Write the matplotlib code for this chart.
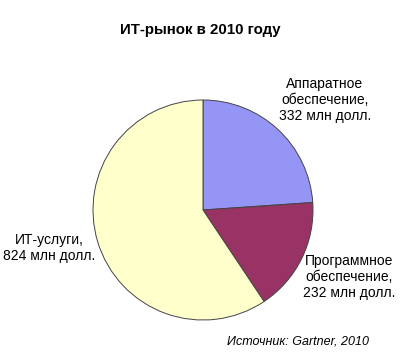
import matplotlib.pyplot as plt

# data
labels = ['Аппаратное\nобеспечение,\n332 млн долл.',
          'Программное\nобеспечение,\n232 млн долл.',
          'ИТ-услуги,\n824 млн долл.']
values = [332, 232, 824]
colors = ['#9595f5', '#993366', '#ffffcc']

plt.rcParams['font.family'] = ['Liberation Sans', 'DejaVu Sans']

fig = plt.figure(figsize=(4, 3.59), dpi=100)
ax = fig.add_axes([0, 0, 1, 1])

# pie in pixel-like coordinates (y up)
ax.pie(values, colors=colors, startangle=90, counterclock=False,
       center=(203, 149), radius=110,
       wedgeprops=dict(edgecolor='#444444', linewidth=0.7))
ax.set_xlim(0, 400)
ax.set_ylim(0, 359)
ax.set_aspect('equal')
ax.axis('off')

# slice labels
label_pos = [(325, 259), (349, 82), (49, 111)]
for txt, (x, y) in zip(labels, label_pos):
    ax.text(x, y, txt, ha='center', va='center', fontsize=10, linespacing=1.2)

ax.text(200, 329, 'ИТ-рынок в 2010 году', ha='center', va='center',
        fontsize=10.8, fontweight='bold')
ax.text(298, 17, 'Источник: Gartner, 2010', ha='center', va='center',
        fontsize=9, style='italic')

fig.savefig('out.png', dpi=100)
